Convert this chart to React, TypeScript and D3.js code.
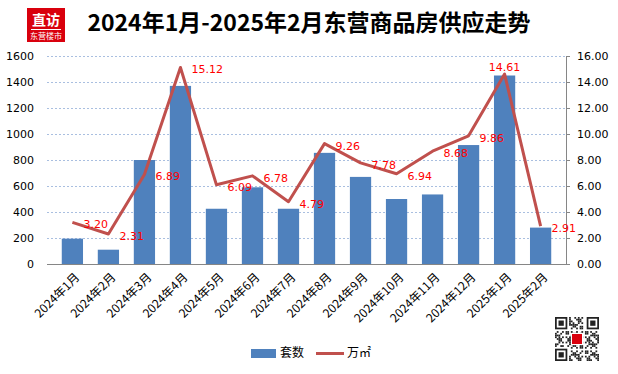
import { useEffect, useRef } from 'react'
import * as d3 from 'd3'

// month labels
const months = [
  '2024年1月', '2024年2月', '2024年3月', '2024年4月', '2024年5月', '2024年6月', '2024年7月',
  '2024年8月', '2024年9月', '2024年10月', '2024年11月', '2024年12月', '2025年1月', '2025年2月'
]
// 套数 (bars, left axis)
const units = [195, 110, 800, 1370, 425, 590, 425, 855, 670, 500, 535, 915, 1450, 280]
// 万㎡ (line, right axis)
const area = [3.2, 2.31, 6.89, 15.12, 6.09, 6.78, 4.79, 9.26, 7.78, 6.94, 8.68, 9.86, 14.61, 2.91]
// where each value label sits relative to its point
const labelPos = ['right', 'right', 'right', 'right', 'right', 'right', 'right',
  'right', 'right', 'right', 'right', 'right', 'above', 'right']
const leftTicks = [0, 200, 400, 600, 800, 1000, 1200, 1400, 1600]
const rightTicks = [0, 2, 4, 6, 8, 10, 12, 14, 16]

const W = 618
const H = 374
const numFont = '"DejaVu Sans", Verdana, sans-serif'
const cjkFont = '"Noto Sans CJK SC", sans-serif'

const App = () => {
  const svgRef = useRef<SVGSVGElement>(null)

  useEffect(() => {
    if (!svgRef.current) return
    const svg = d3.select(svgRef.current)
    svg.selectAll('*').remove()

    const left = 47
    const right = 566
    const top = 56
    const bottom = 264

    const x = d3.scaleBand().domain(months).range([left, right]).padding(0.41)
    const yL = d3.scaleLinear().domain([0, 1600]).range([bottom, top])
    const yR = d3.scaleLinear().domain([0, 16]).range([bottom, top])
    const cx = (m: string) => (x(m) || 0) + x.bandwidth() / 2

    // gridlines
    svg.append('g')
      .selectAll('line')
      .data(leftTicks.filter(t => t > 0))
      .enter()
      .append('line')
      .attr('x1', left)
      .attr('x2', right)
      .attr('y1', d => yL(d) + 0.5)
      .attr('y2', d => yL(d) + 0.5)
      .attr('stroke', '#A9BFE0')
      .attr('stroke-dasharray', '2,2')

    // bars
    svg.append('g')
      .selectAll('rect')
      .data(units)
      .enter()
      .append('rect')
      .attr('x', (_d, i) => x(months[i]) || 0)
      .attr('y', d => yL(d))
      .attr('width', x.bandwidth())
      .attr('height', d => bottom - yL(d))
      .attr('fill', '#4F81BD')

    // baseline + right axis
    svg.append('line')
      .attr('x1', left).attr('x2', right)
      .attr('y1', bottom + 0.5).attr('y2', bottom + 0.5)
      .attr('stroke', '#868686')
    svg.append('line')
      .attr('x1', right + 0.5).attr('x2', right + 0.5)
      .attr('y1', top).attr('y2', bottom)
      .attr('stroke', '#868686')
    svg.append('g')
      .selectAll('line')
      .data(rightTicks)
      .enter()
      .append('line')
      .attr('x1', right)
      .attr('x2', right + 4)
      .attr('y1', d => yR(d) + 0.5)
      .attr('y2', d => yR(d) + 0.5)
      .attr('stroke', '#868686')

    // left tick labels
    svg.append('g')
      .selectAll('text')
      .data(leftTicks)
      .enter()
      .append('text')
      .attr('x', 34)
      .attr('y', d => yL(d))
      .attr('dy', '0.36em')
      .attr('text-anchor', 'end')
      .attr('font-family', numFont)
      .attr('font-size', 11)
      .attr('fill', '#000')
      .text(d => d)

    // right tick labels
    svg.append('g')
      .selectAll('text')
      .data(rightTicks)
      .enter()
      .append('text')
      .attr('x', 577)
      .attr('y', d => yR(d))
      .attr('dy', '0.36em')
      .attr('font-family', numFont)
      .attr('font-size', 11)
      .attr('fill', '#000')
      .text(d => d.toFixed(2))

    // x labels
    svg.append('g')
      .selectAll('text')
      .data(months)
      .enter()
      .append('text')
      .attr('transform', d => `translate(${cx(d) + 5},${bottom + 11}) rotate(-45)`)
      .attr('text-anchor', 'end')
      .attr('dy', '0.35em')
      .attr('font-family', cjkFont)
      .attr('font-size', 12)
      .attr('fill', '#000')
      .text(d => d)

    // line
    const line = d3.line<number>()
      .x((_d, i) => cx(months[i]))
      .y(d => yR(d))
    svg.append('path')
      .datum(area)
      .attr('d', line)
      .attr('fill', 'none')
      .attr('stroke', '#C0504D')
      .attr('stroke-width', 3)
      .attr('stroke-linejoin', 'round')

    // value labels
    svg.append('g')
      .selectAll('text')
      .data(area)
      .enter()
      .append('text')
      .attr('x', (_d, i) => cx(months[i]) + (labelPos[i] === 'above' ? 0 : 11))
      .attr('y', (d, i) => yR(d) + (labelPos[i] === 'above' ? -7 : 2))
      .attr('dy', '0.36em')
      .attr('text-anchor', (_d, i) => labelPos[i] === 'above' ? 'middle' : 'start')
      .attr('font-family', numFont)
      .attr('font-size', 11)
      .attr('fill', '#FF0000')
      .text(d => d.toFixed(2))

    // title
    svg.append('text')
      .attr('x', 309)
      .attr('y', 31)
      .attr('text-anchor', 'middle')
      .attr('font-family', cjkFont)
      .attr('font-weight', 700)
      .attr('font-size', 23)
      .attr('fill', '#000')
      .text('2024年1月-2025年2月东营商品房供应走势')

    // logo
    const logo = svg.append('g').attr('transform', 'translate(27,8)')
    logo.append('rect').attr('width', 38).attr('height', 34).attr('fill', '#D9000D')
    logo.append('text')
      .attr('x', 19).attr('y', 17)
      .attr('text-anchor', 'middle')
      .attr('font-family', cjkFont).attr('font-weight', 700).attr('font-size', 14)
      .attr('fill', '#fff')
      .text('直访')
    logo.append('line')
      .attr('x1', 4).attr('x2', 34).attr('y1', 21.5).attr('y2', 21.5)
      .attr('stroke', '#fff')
    logo.append('text')
      .attr('x', 19).attr('y', 31)
      .attr('text-anchor', 'middle')
      .attr('font-family', cjkFont).attr('font-size', 8)
      .attr('fill', '#fff')
      .text('东营楼市')

    // legend
    const legend = svg.append('g')
    legend.append('rect').attr('x', 251).attr('y', 349).attr('width', 25).attr('height', 9).attr('fill', '#4F81BD')
    legend.append('text').attr('x', 280).attr('y', 353).attr('dy', '0.36em')
      .attr('font-family', cjkFont).attr('font-size', 12).attr('fill', '#000').text('套数')
    legend.append('line').attr('x1', 316).attr('x2', 344).attr('y1', 353.5).attr('y2', 353.5)
      .attr('stroke', '#C0504D').attr('stroke-width', 3)
    legend.append('text').attr('x', 347).attr('y', 353).attr('dy', '0.36em')
      .attr('font-family', cjkFont).attr('font-size', 12).attr('fill', '#000').text('万㎡')

    // QR code (decorative)
    const qr = svg.append('g').attr('transform', 'translate(555,317)')
    const n = 25
    const s = 44 / n
    for (let i = 0; i < n; i++) {
      for (let j = 0; j < n; j++) {
        const inFinder = (i < 8 && j < 8) || (i < 8 && j >= n - 8) || (i >= n - 8 && j < 8)
        if (inFinder) continue
        if (((i * 31 + j * 17 + i * j * 7) % 11) < 5) {
          qr.append('rect').attr('x', j * s).attr('y', i * s).attr('width', s).attr('height', s).attr('fill', '#222')
        }
      }
    }
    const finders = [[0, 0], [0, n - 7], [n - 7, 0]]
    finders.forEach(([r, c]) => {
      qr.append('rect').attr('x', c * s + s / 2).attr('y', r * s + s / 2).attr('width', 6 * s).attr('height', 6 * s)
        .attr('fill', 'none').attr('stroke', '#222').attr('stroke-width', s)
      qr.append('rect').attr('x', (c + 2) * s).attr('y', (r + 2) * s).attr('width', 3 * s).attr('height', 3 * s).attr('fill', '#222')
    })
    qr.append('rect').attr('x', 16).attr('y', 16).attr('width', 12).attr('height', 12).attr('fill', '#fff')
    qr.append('rect').attr('x', 17).attr('y', 17).attr('width', 10).attr('height', 10).attr('fill', '#D9000D')
  }, [])

  return (
    <svg
      ref={svgRef}
      width={W}
      height={H}
      style={{ position: 'absolute', left: 0, top: 0, background: '#fff' }}
    />
  )
}

export default App
